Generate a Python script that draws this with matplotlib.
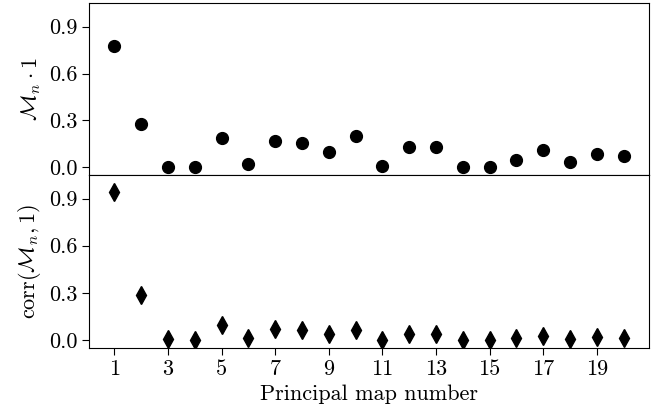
import matplotlib
matplotlib.use("Agg")
import matplotlib.pyplot as plt
import numpy as np

plt.rcParams['font.family'] = 'serif'
plt.rcParams['font.serif'] = ['cmr10']
plt.rcParams['mathtext.fontset'] = 'cm'
plt.rcParams['axes.formatter.use_mathtext'] = True
plt.rcParams['font.size'] = 16
plt.rcParams['xtick.major.size'] = 5
plt.rcParams['ytick.major.size'] = 5

# principal map numbers
maps = np.arange(1, 21)

# projection of each principal map onto the ones vector
proj = [0.778, 0.276, 0.004, 0.0, 0.186, 0.019, 0.165, 0.158, 0.098, 0.203,
        0.008, 0.130, 0.132, 0.004, 0.0, 0.045, 0.109, 0.032, 0.085, 0.073]

# correlation of each principal map with the ones vector
corr = [0.940, 0.287, 0.004, 0.0, 0.096, 0.011, 0.070, 0.062, 0.036, 0.065,
        0.0, 0.038, 0.038, 0.0, 0.0, 0.011, 0.025, 0.004, 0.020, 0.013]

yticks = [0.0, 0.3, 0.6, 0.9]
xticks = np.arange(1, 21, 2)

fig = plt.figure(figsize=(6.72, 4.13), dpi=100)
ax1 = fig.add_axes([0.1324, 0.5763, 0.8334, 0.4157])
ax2 = fig.add_axes([0.1324, 0.1581, 0.8334, 0.4182], sharex=ax1)

ax1.plot(maps, proj, 'o', color='black', ms=8.5, ls='none')
ax2.plot(maps, corr, 'd', color='black', ms=9, ls='none')

for ax in (ax1, ax2):
    ax.set_ylim(-0.05, 1.05)
    ax.set_yticks(yticks)
    ax.set_yticklabels([f'{t:.1f}' for t in yticks])

ax1.tick_params(axis='x', bottom=False, labelbottom=False)
ax2.set_xticks(xticks)
ax2.set_xticklabels([str(t) for t in xticks])

ax1.set_ylabel(r'$\mathcal{M}_n \cdot \mathbf{1}$', fontsize=16)
ax2.set_ylabel(r'$\mathrm{corr}(\mathcal{M}_n, \mathbf{1})$', fontsize=16)
ax2.set_xlabel('Principal map number', fontsize=16)

fig.savefig('out.png', dpi=100)
